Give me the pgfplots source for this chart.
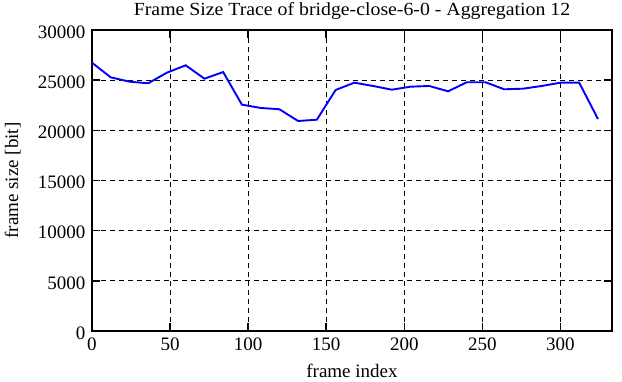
\documentclass[border=0pt]{standalone}
\usepackage{fontspec}
\setmainfont{Liberation Serif}
\newfontfamily\titlefont[FakeStretch=1.07]{Liberation Serif}
\usepackage{pgfplots}
\pgfplotsset{compat=1.18}
\begin{document}
\begin{tikzpicture}
\begin{axis}[
  scale only axis,
  width=520pt, height=301pt,
  xmin=0, xmax=333, ymin=0, ymax=30000,
  xtick={0,50,...,300},
  ytick={0,5000,...,30000},
  scaled ticks=false,
  /pgf/number format/1000 sep={},
  /pgf/number format/assume math mode=true,
  tick label style={font=\fontsize{19}{22}\selectfont},
  xticklabel style={anchor=base, yshift=-20pt},
  yticklabel style={xshift=-3pt, yshift=-2pt},
  label style={font=\fontsize{19}{22}\selectfont},
  title style={font=\titlefont\fontsize{18.5}{22}\selectfont, at={(axis description cs:0.5,1)}, anchor=base, yshift=8pt},
  title={Frame Size Trace of bridge-close-6-0 - Aggregation 12},
  xlabel={frame index},
  ylabel={frame size [bit]},
  xlabel style={at={(axis description cs:0.5,-0.156)}, anchor=base},
  ylabel style={at={(axis description cs:-0.142,0.5)}, anchor=base},
  grid=major,
  major grid style={black, dash pattern=on 5pt off 4pt, line width=0.8pt},
  tick align=inside,
  tick style={black, line width=1.5pt},
  major tick length=8pt,
  axis line style={line width=1.5pt},
]
\addplot[blue, line width=1.9pt] coordinates {
(0,26740) (12,25280) (24,24850) (36,24690) (48,25750) (60,26480) (72,25150)
(84,25810) (96,22560) (108,22230) (120,22100) (132,20930) (144,21060)
(156,24020) (168,24750) (180,24420) (192,24050) (204,24350) (216,24420)
(228,23890) (240,24790) (252,24790) (264,24090) (276,24150) (288,24420)
(300,24750) (312,24750) (324,21130)
};
\coordinate (bl) at (rel axis cs:0,0);
\coordinate (tr) at (rel axis cs:1,1);
\end{axis}
\pgfresetboundingbox
\path ([shift={(-92pt,-51pt)}]bl) rectangle ([shift={(10pt,30pt)}]tr);
\end{tikzpicture}
\end{document}
